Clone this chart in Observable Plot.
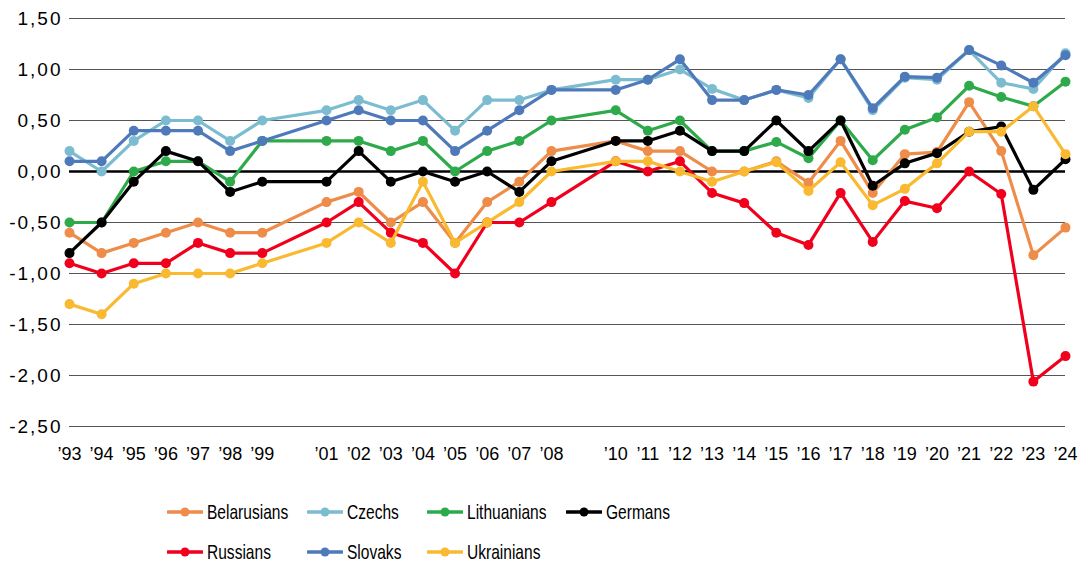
<!DOCTYPE html>
<html>
<head>
<meta charset="utf-8">
<script src="https://cdn.jsdelivr.net/npm/d3@7"></script>
<script src="https://cdn.jsdelivr.net/npm/@observablehq/plot@0.6"></script>
<style>
  html, body { margin: 0; padding: 0; background: #fff; }
  body { width: 1081px; height: 565px; position: relative; overflow: hidden; font-family: "Liberation Sans", Arial, sans-serif; }
  #legend { position: absolute; left: 0; top: 0; width: 1081px; height: 565px; pointer-events: none; }
  .item { position: absolute; height: 24px; display: flex; align-items: center; }
  .item svg { display: block; }
  .item span { display: inline-block; font-size: 21px; color: #000; transform: scaleX(0.74); transform-origin: left center; margin-left: 4px; white-space: nowrap; }
</style>
</head>
<body>
<div id="chart"></div>
<div id="legend"></div>
<script>
const years = [1993,1994,1995,1996,1997,1998,1999,2001,2002,2003,2004,2005,2006,2007,2008,2010,2011,2012,2013,2014,2015,2016,2017,2018,2019,2020,2021,2022,2023,2024];

const seriesNames = ["Belarusians","Czechs","Lithuanians","Germans","Russians","Slovaks","Ukrainians"];
const seriesColors = ["#EE8C49","#7CBCD1","#2EAA4A","#000000","#F0001C","#4F7ABA","#F9B930"];

const belarusians = [-0.6,-0.8,-0.7,-0.6,-0.5,-0.6,-0.6,-0.3,-0.2,-0.5,-0.3,-0.7,-0.3,-0.1,0.2,0.3,0.2,0.2,0.0,0.0,0.1,-0.11,0.3,-0.21,0.17,0.19,0.68,0.2,-0.82,-0.55];
const czechs      = [0.2,0.0,0.3,0.5,0.5,0.3,0.5,0.6,0.7,0.6,0.7,0.4,0.7,0.7,0.8,0.9,0.9,1.0,0.81,0.7,0.8,0.72,1.1,0.6,0.92,0.9,1.19,0.87,0.81,1.16];
const lithuanians = [-0.5,-0.5,0.0,0.1,0.1,-0.1,0.3,0.3,0.3,0.2,0.3,0.0,0.2,0.3,0.5,0.6,0.4,0.5,0.2,0.2,0.29,0.13,0.5,0.11,0.41,0.53,0.84,0.73,0.64,0.88];
const germans     = [-0.8,-0.5,-0.1,0.2,0.1,-0.2,-0.1,-0.1,0.2,-0.1,0.0,-0.1,0.0,-0.2,0.1,0.3,0.3,0.4,0.2,0.2,0.5,0.2,0.5,-0.14,0.08,0.18,0.39,0.44,-0.18,0.12];
const russians    = [-0.9,-1.0,-0.9,-0.9,-0.7,-0.8,-0.8,-0.5,-0.3,-0.6,-0.7,-1.0,-0.5,-0.5,-0.3,0.1,0.0,0.1,-0.21,-0.31,-0.6,-0.72,-0.21,-0.69,-0.29,-0.36,0.0,-0.22,-2.06,-1.81];
const slovaks     = [0.1,0.1,0.4,0.4,0.4,0.2,0.3,0.5,0.6,0.5,0.5,0.2,0.4,0.6,0.8,0.8,0.9,1.1,0.7,0.7,0.8,0.75,1.1,0.62,0.93,0.92,1.19,1.04,0.87,1.14];
const ukrainians  = [-1.3,-1.4,-1.1,-1.0,-1.0,-1.0,-0.9,-0.7,-0.5,-0.7,-0.1,-0.7,-0.5,-0.3,0.0,0.1,0.1,0.0,-0.1,0.0,0.09,-0.19,0.09,-0.33,-0.17,0.08,0.39,0.39,0.64,0.17];

const yTicks = [-2.5,-2.0,-1.5,-1.0,-0.5,0.0,0.5,1.0,1.5];

const seriesValues = [belarusians, czechs, lithuanians, germans, russians, slovaks, ukrainians];

const fmtY = d => (d < 0 ? "-" : "") + Math.abs(d).toFixed(2).replace(".", ",");
const fmtX = d => "\u2019" + String(d).slice(2);

const seriesMarks = seriesNames.flatMap((name, i) => {
  const rows = years.map((y, j) => ({year: y, value: seriesValues[i][j], series: name}));
  return [
    Plot.line(rows, {x: "year", y: "value", stroke: seriesColors[i], strokeWidth: 3.2, strokeLinejoin: "round", strokeLinecap: "round"}),
    Plot.dot(rows, {x: "year", y: "value", fill: seriesColors[i], r: 5, stroke: "none"})
  ];
});

const chart = Plot.plot({
  width: 1081,
  height: 475,
  marginLeft: 69,
  marginRight: 16,
  marginTop: 18,
  marginBottom: 49,
  style: {fontFamily: "'Liberation Sans', Arial, sans-serif", background: "#fff", overflow: "visible"},
  x: {domain: [1993, 2024], ticks: years, tickFormat: fmtX, tickSize: 0, tickPadding: 21, label: null},
  y: {domain: [-2.5, 1.5], ticks: yTicks, tickFormat: fmtY, tickSize: 0, tickPadding: 9, label: null},
  marks: [
    Plot.ruleY(yTicks.filter(d => d !== 0), {stroke: "#555", strokeWidth: 1.2}),
    Plot.ruleY([0], {stroke: "#000", strokeWidth: 2.5}),
    ...seriesMarks,
    Plot.axisX({ticks: years, tickFormat: fmtX, tickSize: 0, tickPadding: 21, fontSize: 18, label: null}),
    Plot.axisY({ticks: yTicks, tickFormat: fmtY, tickSize: 0, tickPadding: 7, fontSize: 19, label: null})
  ]
});
chart.querySelectorAll("g[aria-label='y-axis tick label'] text").forEach(t => t.setAttribute("letter-spacing", "2"));
document.getElementById("chart").appendChild(chart);

// Legend
const legendPos = [[167,512],[307,512],[427,512],[566,512],[167,552],[307,552],[427,552]];
const legend = document.getElementById("legend");
seriesNames.forEach((name, i) => {
  const [lx, ly] = legendPos[i];
  const div = document.createElement("div");
  div.className = "item";
  div.style.left = lx + "px";
  div.style.top = (ly - 12) + "px";
  const c = seriesColors[i];
  div.innerHTML = `<svg width="36" height="24"><line x1="1" y1="12" x2="35" y2="12" stroke="${c}" stroke-width="3.5" stroke-linecap="round"/><circle cx="18" cy="12" r="4.5" fill="${c}"/></svg><span>${name}</span>`;
  legend.appendChild(div);
});
</script>
</body>
</html>
